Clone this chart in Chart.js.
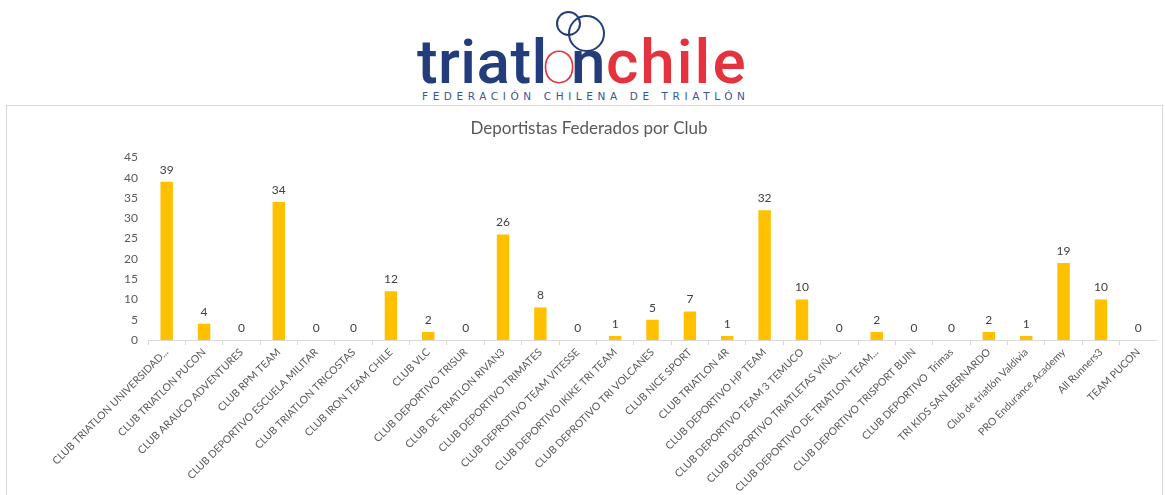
<!DOCTYPE html>
<html>
<head>
<meta charset="utf-8">
<script src="https://cdn.jsdelivr.net/npm/chart.js@4"></script>
<style>
  body { margin: 0; background: #fff; width: 1165px; height: 495px; overflow: hidden; position: relative; }
  #box { position: absolute; left: 6px; top: 105px; width: 1157px; height: 400px; border: 1px solid #d9d9d9; box-sizing: border-box; }
  #box canvas { position: absolute; left: 0; top: 0; }
  #logo { position: absolute; left: 408px; top: 0; width: 350px; height: 106px; background: #fff; }
  #logo span { position: absolute; font-family: Roboto, "Liberation Sans", sans-serif; font-size: 62px; line-height: 1; top: 31px; font-weight: 500; }
  #logo .blue { color: #233c7b; }
  #logo .red { color: #e4333f; }
  #logo .o { color: #e4333f; font-weight: 100; }
  #logo .ring { position: absolute; border: 2px solid #233c7b; border-radius: 50%; box-sizing: border-box; }
  #logo .sub { position: absolute; left: 14px; top: 90px; font-family: "DejaVu Sans", sans-serif; font-size: 10.5px; letter-spacing: 4.6px; color: #3b5592; white-space: nowrap; }
</style>
</head>
<body>
<div id="logo">
  <div class="ring" style="left:148px;top:11px;width:25px;height:25px;"></div>
  <div class="ring" style="left:160px;top:15px;width:37px;height:37px;"></div>
  <span class="blue" style="left:9px;letter-spacing:0.4px;">triatl</span>
  <span class="o" style="left:134px;">o</span>
  <span class="blue" style="left:163px;">n</span>
  <span class="red" style="left:198px;letter-spacing:2px;">chile</span>
  <div class="sub">FEDERACIÓN CHILENA DE TRIATLÓN</div>
</div>
<div id="box"><canvas id="canvas" width="1150" height="398"></canvas></div>
<script>
// categories and counts
let clubs = [
  'CLUB TRIATLON UNIVERSIDAD...', 'CLUB TRIATLON PUCON', 'CLUB ARAUCO ADVENTURES', 'CLUB RPM TEAM',
  'CLUB DEPORTIVO ESCUELA MILITAR', 'CLUB TRIATLON TRICOSTAS', 'CLUB IRON TEAM CHILE', 'CLUB VLC',
  'CLUB DEPORTIVO TRISUR', 'CLUB DE TRIATLON RIVAN3', 'CLUB DEPORTIVO TRIMATES', 'CLUB DEPROTIVO TEAM VITESSE',
  'CLUB DEPORTIVO IKIKE TRI TEAM', 'CLUB DEPROTIVO TRI VOLCANES', 'CLUB NICE SPORT', 'CLUB TRIATLON 4R',
  'CLUB DEPORTIVO HP TEAM', 'CLUB DEPORTIVO TEAM 3 TEMUCO', 'CLUB DEPORTIVO TRIATLETAS VIÑA...',
  'CLUB DEPORTIVO DE TRIATLON TEAM...', 'CLUB DEPORTIVO TRISPORT BUIN', 'CLUB DEPORTIVO  Trimas',
  'TRI KIDS SAN BERNARDO', 'Club de triatlón Valdivia', 'PRO Endurance Academy', 'All Runners3', 'TEAM PUCON'
];
let deportistas = [39, 4, 0, 34, 0, 0, 12, 2, 0, 26, 8, 0, 1, 5, 7, 1, 32, 10, 0, 2, 0, 0, 2, 1, 19, 10, 0];
let yTicks = [0, 5, 10, 15, 20, 25, 30, 35, 40, 45];

let title = 'Deportistas Federados por Club';
let gray = '#595959';
let font = 'Lato, "Open Sans", sans-serif';

// value labels above every bar (no datalabels plugin offline)
let valueLabels = {
  id: 'valueLabels',
  afterDatasetsDraw(chart) {
    let ctx = chart.ctx;
    let meta = chart.getDatasetMeta(0);
    ctx.save();
    ctx.font = '12px ' + font;
    ctx.fillStyle = '#404040';
    ctx.textAlign = 'center';
    ctx.textBaseline = 'bottom';
    meta.data.forEach((bar, i) => {
      ctx.fillText(chart.data.datasets[0].data[i], bar.x, bar.y - 6);
    });
    ctx.restore();
  }
};

let options = {
  type: 'bar',
  data: {
    labels: clubs,
    datasets: [{
      data: deportistas,
      backgroundColor: '#ffc000',
      barPercentage: 0.9,
      categoryPercentage: 0.37
    }]
  },
  options: {
    responsive: false,
    animation: false,
    layout: { padding: { left: 14, right: 0, top: 0, bottom: 0 } },
    plugins: {
      legend: { display: false },
      tooltip: { enabled: false },
      title: {
        display: true,
        text: title,
        color: gray,
        font: { family: font, size: 17, weight: 'normal' },
        padding: { top: 12, bottom: 19 }
      }
    },
    scales: {
      x: {
        grid: { drawOnChartArea: false, drawTicks: true, tickLength: 5, color: '#d9d9d9' },
        border: { color: '#d9d9d9' },
        ticks: {
          color: gray,
          font: { family: font, size: 10.5 },
          maxRotation: 45,
          minRotation: 45,
          autoSkip: false,
          padding: 1
        },
        afterFit(scale) { scale.height = 164; }
      },
      y: {
        min: 0,
        max: 45,
        afterBuildTicks(scale) { scale.ticks = yTicks.map(v => ({ value: v })); },
        grid: { display: false },
        border: { display: false },
        ticks: { color: gray, font: { family: font, size: 12 }, padding: 2 },
        afterFit(scale) { scale.width = 127; }
      }
    }
  },
  plugins: [valueLabels]
};

let chart = new Chart(document.getElementById('canvas'), options);
</script>
</body>
</html>
